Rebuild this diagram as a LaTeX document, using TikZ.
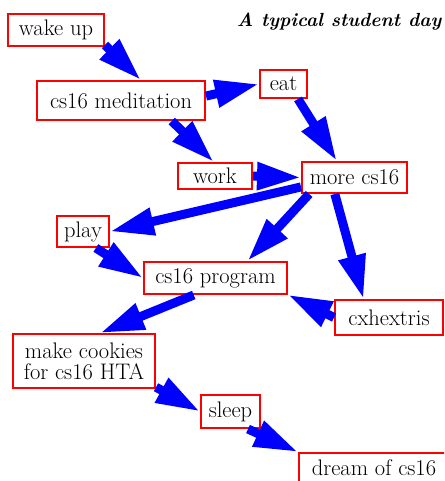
\documentclass[tikz,border=0pt]{standalone}
\usepackage{fontspec}
\usetikzlibrary{arrows.meta}
\begin{document}
\begin{tikzpicture}[x=1pt,y=1pt]
\tikzset{
  box/.style={draw=red, line width=2pt, fill=white, inner sep=0pt,
    font=\rmfamily\fontsize{22.5}{21}\selectfont, align=center},
  flow/.style={draw=blue, line width=9pt, -{Triangle[length=44pt,width=26pt]}},
  ttl/.style={font=\rmfamily\fontsize{19}{24}\selectfont\bfseries\itshape, inner sep=0pt, anchor=base}
}
\path[use as bounding box] (0,0) rectangle (444,-481);
\clip (0,0) rectangle (444,-481);
\node[ttl] (title) at (339,-27) {A typical student day};
\node[box, minimum width=96pt, minimum height=32pt] (wake) at (56,-30) {wake up};
\node[box, minimum width=168pt, minimum height=39pt] (med) at (121,-100.5) {cs16 meditation};
\node[box, minimum width=47pt, minimum height=28pt] (eat) at (283.5,-84) {eat};
\node[box, minimum width=74pt, minimum height=26pt] (work) at (215,-176) {work};
\node[box, minimum width=105pt, minimum height=31pt] (more) at (354.5,-177.5) {more cs16};
\node[box, minimum width=52pt, minimum height=31pt] (play) at (83,-231.5) {play};
\node[box, minimum width=143pt, minimum height=32pt] (prog) at (215.5,-278) {cs16 program};
\node[box, minimum width=108pt, minimum height=35pt] (cx) at (389,-317.5) {cxhextris};
\node[box, minimum width=142pt, minimum height=54pt] (cook) at (84,-361) {make cookies\\for cs16 HTA};
\node[box, minimum width=59pt, minimum height=33pt] (sleep) at (230.5,-411.5) {sleep};
\node[box, minimum width=150pt, minimum height=30pt] (dream) at (374,-468) {dream of cs16};
\draw[flow] (wake.-17) -- (med.46);
\draw[flow] (med.3) -- (eat.180);
\draw[flow] (med.-22) -- (work.95);
\draw[flow] (eat.-46) -- (more.137);
\draw[flow] (work.0) -- (more.180);
\draw[flow] (more.190) -- (play.0);
\draw[flow] (more.200) -- (prog.28.5);
\draw[flow] (more.220) -- (cx.144);
\draw[flow] (play.-52) -- (prog.180);
\draw[flow] (cx.180) -- (prog.-13);
\draw[flow] (prog.218) -- (cook.60);
\draw[flow] (cook.-20) -- (sleep.180);
\draw[flow] (sleep.-45) -- (dream.north west);
\end{tikzpicture}
\end{document}
